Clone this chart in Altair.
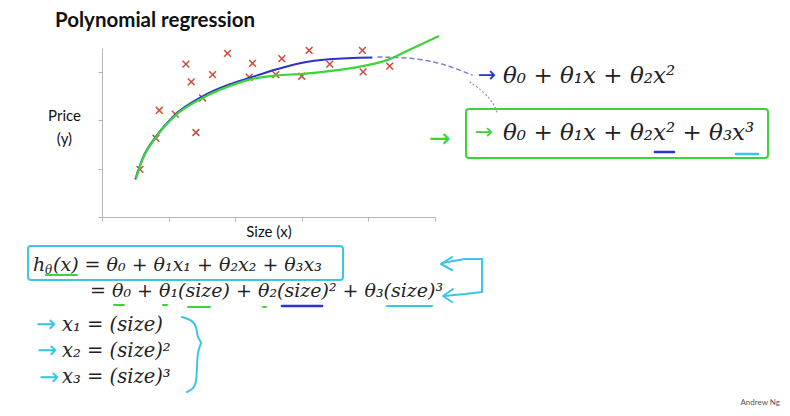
import altair as alt
import pandas as pd

# ---------------- data ----------------
size_x = [0.57, 0.81, 0.86, 1.10, 1.26, 1.34, 1.41, 1.51, 1.66, 1.885,
          2.21, 2.26, 2.61, 2.70, 3.00, 3.11, 3.42, 3.91, 3.92, 4.32]
price_y = [1.97, 3.26, 4.42, 4.26, 6.33, 5.60, 3.50, 4.93, 5.90, 6.78,
           5.79, 6.36, 5.90, 6.56, 5.83, 6.90, 6.33, 6.90, 6.01, 6.25]

quad_x = [0.50, 0.61, 0.81, 1.10, 1.51, 1.91, 2.21, 2.61, 3.01, 3.41, 4.06]
quad_y = [1.56, 2.43, 3.33, 4.24, 5.00, 5.49, 5.76, 6.11, 6.39, 6.53, 6.61]

cubic_x = [0.51, 0.61, 0.81, 1.10, 1.51, 1.91, 2.21, 2.61, 3.01, 3.41, 3.91, 4.31, 4.61, 5.06]
cubic_y = [1.60, 2.40, 3.30, 4.20, 4.93, 5.42, 5.69, 5.86, 5.93, 6.04, 6.25, 6.53, 6.92, 7.50]

x_ticks = [0, 1, 2, 3, 4, 5]
y_ticks = [0, 1, 2, 3, 4, 5, 6, 7]

title_text = "Polynomial regression"
formula_quad = "θ₀ + θ₁x + θ₂x²"
formula_cubic = "θ₀ + θ₁x + θ₂x² + θ₃x³"
hyp_h = "h"
hyp_sub = "θ"
hyp_line1 = "(x) = θ₀ + θ₁x₁ + θ₂x₂ + θ₃x₃"
hyp_line2 = "= θ₀ + θ₁(size) + θ₂(size)² + θ₃(size)³"
feat_lines = ["x₁ = (size)", "x₂ = (size)²", "x₃ = (size)³"]
credit = "Andrew Ng"

# ---------------- layout ----------------
W, H = 333, 169          # plot area
OX, OY = 102, 48         # page position of plot origin
RED = "#cf4a3c"
BLUE = "#2b33c9"
GREEN = "#3bd43b"
CYAN = "#3cc6e6"
MATH_FONT = "DejaVu Serif"
SANS = "Lato"
LOW = 19
BIG = 23

pts = pd.DataFrame({"size": size_x, "price": price_y})
quad = pd.DataFrame({"size": quad_x, "price": quad_y})
cubic = pd.DataFrame({"size": cubic_x, "price": cubic_y})
one = pd.DataFrame({"k": [0]})

xs = alt.Scale(domain=[0, 5], nice=False, zero=False)
ys = alt.Scale(domain=[0, 7], nice=False, zero=False)

xaxis = alt.Axis(values=x_ticks, labels=False, grid=False, domainColor="#b5b5b5",
                 tickColor="#b5b5b5", tickSize=4, title="Size (x)", titleFont=SANS,
                 titleFontSize=15, titleFontWeight="normal", titleColor="#111",
                 titlePadding=3)
yaxis = alt.Axis(values=y_ticks, labels=False, grid=False, domainColor="#b5b5b5",
                 tickColor="#b5b5b5", tickSize=4, title=["Price", "(y)"], titleFont=SANS,
                 titleFontSize=15, titleFontWeight="normal", titleColor="#111",
                 titleAngle=0, titleAlign="center", titleBaseline="middle",
                 titleX=64 - OX, titleY=115 - OY, titleLineHeight=23)

scatter = alt.Chart(pts).mark_point(
    shape="M -1 -1 L 1 1 M -1 1 L 1 -1", filled=False, size=46,
    strokeWidth=1.5, color=RED, opacity=1
).encode(x=alt.X("size:Q", scale=xs, axis=xaxis),
         y=alt.Y("price:Q", scale=ys, axis=yaxis))

quad_line = alt.Chart(quad).mark_line(color=BLUE, strokeWidth=2, interpolate="monotone").encode(
    x=alt.X("size:Q", scale=xs), y=alt.Y("price:Q", scale=ys))
cubic_line = alt.Chart(cubic).mark_line(color=GREEN, strokeWidth=2.2, interpolate="monotone").encode(
    x=alt.X("size:Q", scale=xs), y=alt.Y("price:Q", scale=ys))


def txt(s, px, py, size, color="#222", font=MATH_FONT, italic=True, weight="normal",
        align="left", baseline="middle"):
    kw = dict(text=s, fontSize=size, font=font, color=color, align=align,
              baseline=baseline, fontWeight=weight)
    if italic:
        kw["fontStyle"] = "italic"
    return alt.Chart(one).mark_text(**kw).encode(x=alt.value(px - OX), y=alt.value(py - OY))


def arrow(px, py, color, size=24):
    return txt("→", px, py, size, color=color, font="DejaVu Sans", italic=False, align="center")


def rule(x1, x2, y, color, width=2.2):
    return alt.Chart(one).mark_rule(color=color, strokeWidth=width, strokeCap="round").encode(
        x=alt.value(x1 - OX), x2=alt.value(x2 - OX), y=alt.value(y - OY))


def box(x1, y1, x2, y2, color):
    return alt.Chart(one).mark_rect(fillOpacity=0, stroke=color, strokeWidth=2,
                                    cornerRadius=3).encode(
        x=alt.value(x1 - OX), x2=alt.value(x2 - OX),
        y=alt.value(y1 - OY), y2=alt.value(y2 - OY))


def poly(points, color, width=2, dash=None, interp="linear"):
    df = pd.DataFrame({"px": [p[0] - OX for p in points],
                       "py": [p[1] - OY for p in points],
                       "o": list(range(len(points)))})
    kw = dict(color=color, strokeWidth=width, interpolate=interp, strokeCap="round",
              strokeJoin="round")
    if dash:
        kw["strokeDash"] = dash
    return alt.Chart(df).mark_line(**kw).encode(
        x=alt.X("px:Q", scale=None), y=alt.Y("py:Q", scale=None), order="o:Q")


layers = [
    scatter, quad_line, cubic_line,
    txt(title_text, 55, 27, 20.5, color="#111", font=SANS, italic=False, weight="bold",
        baseline="alphabetic"),
    # dashed connector
    poly([(378, 57), (420, 58), (450, 66), (472, 75)], "#7b7fd8", 1.5, [4, 4], "basis"),
    poly([(470, 82), (484, 92), (494, 104), (497, 112)], "#8a8ed8", 1.2, [1, 3], "basis"),
    # right formulas
    arrow(487, 75, BLUE, 22),
    txt(formula_quad, 503, 76, BIG),
    box(466, 109, 768, 158, GREEN),
    arrow(440, 139, GREEN, 26),
    arrow(484, 132, GREEN, 22),
    txt(formula_cubic, 503, 133, BIG),
    rule(655, 674, 152, BLUE, 2.6),
    rule(736, 758, 154, CYAN, 2.6),
    # hypothesis
    box(28, 246, 343, 280, CYAN),
    txt(hyp_h, 33, 265, LOW),
    txt(hyp_sub, 45, 270, 12),
    txt(hyp_line1, 53, 265, LOW),
    txt(hyp_line2, 90, 291, LOW),
    rule(46, 77, 275, GREEN, 2),
    rule(114, 124, 305, GREEN, 2),
    rule(163, 167, 305, GREEN, 2),
    rule(188, 210, 307, GREEN, 2),
    rule(263, 266, 307, GREEN, 2),
    rule(282, 322, 306, BLUE, 2.6),
    rule(387, 432, 306, CYAN, 2.2),
    poly([(452, 257), (441, 264), (452, 270)], CYAN, 2),
    poly([(442, 263), (465, 259), (482, 259), (482, 292), (465, 294), (444, 296)], CYAN, 2),
    poly([(453, 289), (443, 296), (452, 302)], CYAN, 2),
    # features
    arrow(46, 325, CYAN),
    arrow(47, 351, CYAN),
    arrow(49, 378, CYAN),
    txt(feat_lines[0], 62, 325, 19.5),
    txt(feat_lines[1], 62, 351, 19.5),
    txt(feat_lines[2], 62, 377, 19.5),
    poly([(182, 317), (192, 320), (197, 327), (197, 338), (203, 343), (197, 348),
          (197, 383), (193, 389), (187, 392)], CYAN, 2, None, "basis"),
    txt(credit, 780, 403, 8, color="#555", font=SANS, italic=False, align="right"),
]

chart = alt.layer(*layers).properties(
    width=W, height=H,
    autosize=alt.AutoSizeParams(type="none"),
    padding={"left": OX - 8, "top": OY - 8, "right": 774 - (OX - 8) - W,
             "bottom": 400 - (OY - 8) - H},
    background="white",
).configure_view(stroke=None)

chart.save("out.html", embed_options={"renderer": "svg", "actions": False})
